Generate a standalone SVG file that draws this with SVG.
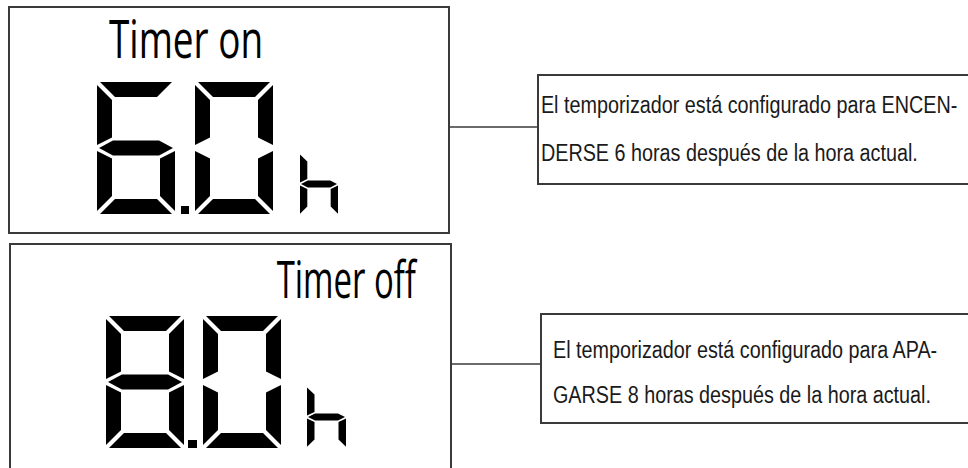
<svg xmlns="http://www.w3.org/2000/svg" xmlns:xlink="http://www.w3.org/1999/xlink" width="968" height="468" viewBox="0 0 968 468">
<style>
.frame{fill:none;stroke:#3a3a3a;stroke-width:2}
.conn{stroke:#3a3a3a;stroke-width:1.5;fill:none}
.seg{fill:#000}
.lcd{font-family:"Open Sans","Noto Sans","DejaVu Sans",sans-serif;fill:#000}
.note{font-family:"Liberation Sans",Arial,sans-serif;font-size:23px;fill:#1a1a1a}
</style>
<defs>
<polygon id="sa" points="3,0 75,0 60,15 18,15"/>
<polygon id="sf" points="0,3 15,18 15,55.5 0,63"/>
<polygon id="sb" points="78,3 63,18 63,55.5 78,63"/>
<polygon id="sg" points="2,66 16,58.5 62,58.5 76,66 62,73.5 16,73.5"/>
<polygon id="se" points="0,69 15,76.5 15,114 0,129"/>
<polygon id="sc" points="78,69 63,76.5 63,114 78,129"/>
<polygon id="sd" points="18,117 60,117 75,132 3,132"/>
</defs>

<g id="display-on">
<rect class="frame" x="9" y="7" width="440" height="226"/>
<text class="lcd" transform="scale(0.697,1)" x="156.4" y="58" font-size="53">Timer on</text>
<g class="seg" transform="translate(97,82)">
<use xlink:href="#sa"/><use xlink:href="#sf"/><use xlink:href="#sg"/><use xlink:href="#se"/><use xlink:href="#sc"/><use xlink:href="#sd"/>
</g>
<rect class="seg" x="181" y="206" width="8" height="8"/>
<g class="seg" transform="translate(195,82)">
<use xlink:href="#sa"/><use xlink:href="#sb"/><use xlink:href="#sf"/><use xlink:href="#se"/><use xlink:href="#sc"/><use xlink:href="#sd"/>
</g>
<g class="seg" transform="translate(300,153) scale(0.487,0.47)">
<use xlink:href="#sf"/><use xlink:href="#sg"/><use xlink:href="#se"/><use xlink:href="#sc"/>
</g>
</g>

<g id="display-off">
<path class="frame" d="M10,470 V244 H451 V470"/>
<text class="lcd" transform="scale(0.645,1)" x="429" y="298" font-size="51">Timer off</text>
<g class="seg" transform="translate(106,316)">
<use xlink:href="#sa"/><use xlink:href="#sb"/><use xlink:href="#sf"/><use xlink:href="#sg"/><use xlink:href="#se"/><use xlink:href="#sc"/><use xlink:href="#sd"/>
</g>
<rect class="seg" x="188" y="440" width="9" height="8"/>
<g class="seg" transform="translate(203,316)">
<use xlink:href="#sa"/><use xlink:href="#sb"/><use xlink:href="#sf"/><use xlink:href="#se"/><use xlink:href="#sc"/><use xlink:href="#sd"/>
</g>
<g class="seg" transform="translate(307,386) scale(0.5,0.47)">
<use xlink:href="#sf"/><use xlink:href="#sg"/><use xlink:href="#se"/><use xlink:href="#sc"/>
</g>
</g>

<g id="connectors">
<line class="conn" x1="449" y1="127" x2="538" y2="127"/>
<line class="conn" x1="451" y1="364" x2="541" y2="364"/>
</g>

<g id="note-on">
<path class="frame" d="M970,75 H538 V184 H970"/>
<g transform="scale(0.86,1)">
<text class="note" x="629" y="113">El temporizador está configurado para ENCEN-</text>
<text class="note" x="629" y="161">DERSE 6 horas después de la hora actual.</text>
</g>
</g>

<g id="note-off">
<path class="frame" d="M970,314 H541 V423 H970"/>
<g transform="scale(0.86,1)">
<text class="note" x="643" y="358">El temporizador está configurado para APA-</text>
<text class="note" x="643" y="403">GARSE 8 horas después de la hora actual.</text>
</g>
</g>
</svg>
